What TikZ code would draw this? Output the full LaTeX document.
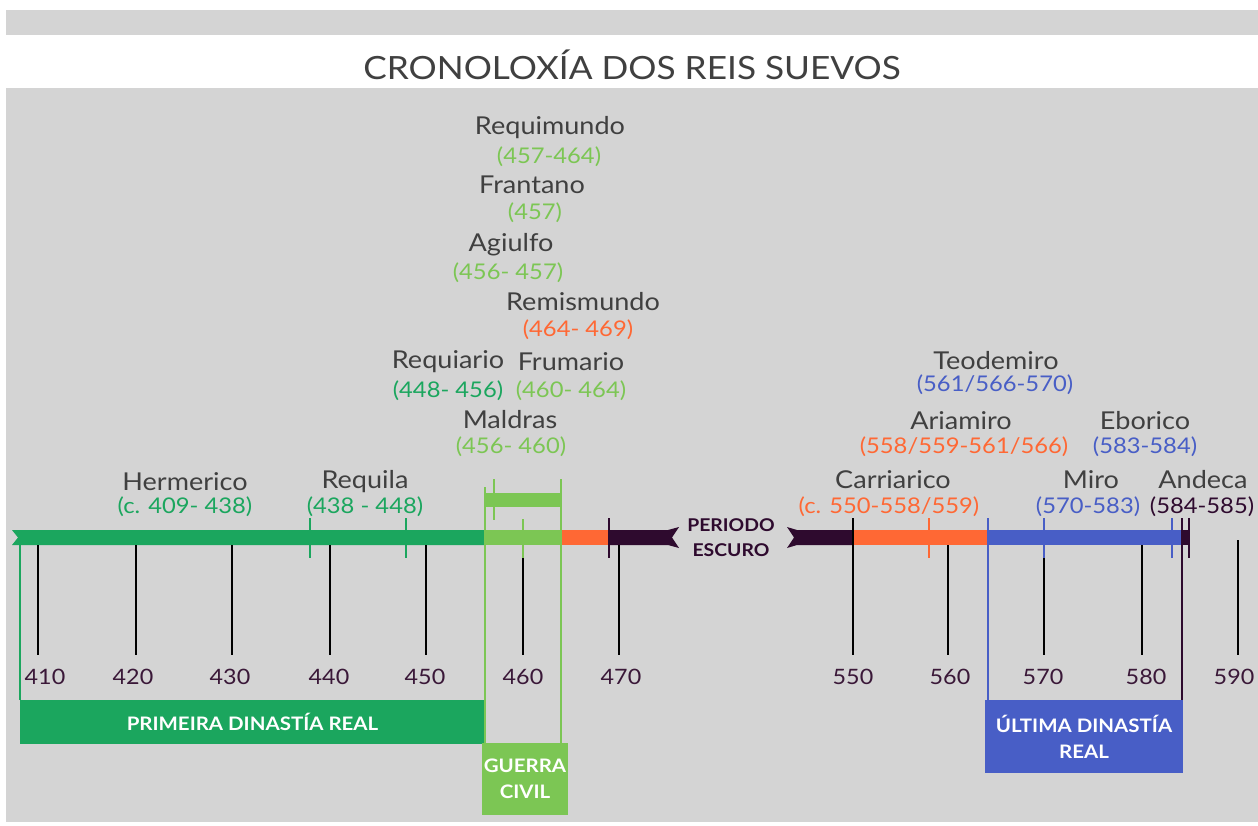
\documentclass[tikz,border=0pt]{standalone}
\usepackage{fontspec}
\setmainfont{Lato}[FakeStretch=1.1]
\usetikzlibrary{positioning}
\definecolor{bggray}{RGB}{212,212,212}
\definecolor{namegray}{RGB}{64,64,64}
\definecolor{dgreen}{RGB}{27,166,94}
\definecolor{lgreen}{RGB}{124,198,84}
\definecolor{orng}{RGB}{255,104,52}
\definecolor{dpurple}{RGB}{46,10,46}
\definecolor{blu}{RGB}{72,94,198}
\definecolor{yeartext}{RGB}{58,24,56}
\tikzset{
  king/.style={text=namegray,inner sep=0pt,font=\fontsize{12.3}{14}\selectfont},
  reign/.style={inner sep=0pt,font=\fontsize{10.8}{12}\selectfont},
  yearlbl/.style={text=yeartext,inner sep=0pt,font=\fontsize{10.6}{12}\selectfont},
  tick/.style={black,line width=1pt},
  reignmark/.style={line width=0.7pt},
  era/.style={text=white,inner sep=0pt,align=center,font=\bfseries\fontsize{9.3}{13}\selectfont}
}
\begin{document}
\begin{tikzpicture}[x=0.5pt,y=-0.5pt]
\useasboundingbox (0,0) rectangle (1258,825);
\fill[white] (0,0) rectangle (1258,825);
\fill[bggray] (6,10) rectangle (1258,35);
\fill[bggray] (6,88) rectangle (1258,822);
\node[text=namegray,inner sep=0pt,font=\fontsize{16}{18}\selectfont] (title) at (632,65) {CRONOLOXÍA DOS REIS SUEVOS};

\fill[dgreen] (12,530) -- (485,530) -- (485,545) -- (12,545) -- (18,537.5) -- cycle;
\fill[lgreen] (485,530) rectangle (562,545);
\fill[orng] (562,530) rectangle (609,545);
\fill[dpurple] (609,530) -- (668,530) -- (679,527) -- (672,537.5) -- (679,548) -- (668,545) -- (609,545) -- cycle;
\fill[dpurple] (787,527) -- (797,530) -- (853,530) -- (853,545) -- (797,545) -- (787,548) -- (794,537.5) -- cycle;
\fill[orng] (853,530) rectangle (987,545);
\fill[blu] (987,530) rectangle (1182,545);
\fill[dpurple] (1182,530) rectangle (1190,545);
\fill[lgreen] (485,493) rectangle (561,507);

\node[era,fill=dgreen,minimum width=232.5pt,minimum height=22pt] (primeira) at (252.5,722) {PRIMEIRA DINASTÍA REAL};
\node[era,fill=lgreen,minimum width=43pt,minimum height=36pt] (guerra) at (525,779) {GUERRA\\CIVIL};
\node[era,fill=blu,minimum width=99pt,minimum height=36.5pt] (ultima) at (1084,736.5) {ÚLTIMA DINASTÍA\\REAL};
\node[text=dpurple,inner sep=0pt,align=center,font=\bfseries\fontsize{8.8}{12.5}\selectfont] (escuro) at (731,538) {PERIODO\\ESCURO};

\draw[reignmark,dgreen] (20,545) -- (20,700);
\draw[reignmark,dgreen] (310,518) -- (310,558);
\draw[reignmark,dgreen] (406,518) -- (406,558);
\draw[reignmark,lgreen] (485,487) -- (485,743);
\draw[reignmark,lgreen] (561,479) -- (561,743);
\draw[reignmark,lgreen] (494,479) -- (494,520);
\draw[reignmark,lgreen] (523,519) -- (523,558);
\draw[reignmark,dpurple] (609,518) -- (609,558);
\draw[reignmark,orng] (929,518) -- (929,558);
\draw[reignmark,blu] (988,518) -- (988,700);
\draw[reignmark,blu] (1044,518) -- (1044,558);
\draw[reignmark,blu] (1172,518) -- (1172,558);
\draw[reignmark,dpurple] (1182,518) -- (1182,700);
\draw[reignmark,dpurple] (1189,518) -- (1189,558);

\foreach \yr/\x/\top/\lx in {410/38/545/45,420/136/545/133,430/232/545/230,440/330/545/329,450/426/545/425,460/523/558/523,470/619/545/621,550/853/518/853,560/948/545/950,570/1044/558/1043,580/1142/545/1146,590/1238/540/1234}{
  \draw[tick] (\x,\top) -- (\x,655);
  \node[yearlbl] (y\yr) at (\lx,677) {\yr};
}

\node[king] (hermerico) at (185,482) {Hermerico};
\node[reign,text=dgreen] (hermericoR) at (185,507) {(c. 409- 438)};
\node[king] (requila) at (365,482) {Requila};
\node[reign,text=dgreen] (requilaR) at (365,507) {(438 - 448)};
\node[king] (maldras) at (510,420) {Maldras};
\node[reign,text=lgreen] (maldrasR) at (511,447) {(456- 460)};
\node[king] (requiario) at (448,362) {Requiario};
\node[reign,text=dgreen] (requiarioR) at (448,391) {(448- 456)};
\node[king] (frumario) at (571,362) {Frumario};
\node[reign,text=lgreen] (frumarioR) at (571,391) {(460- 464)};
\node[king] (remismundo) at (583,302) {Remismundo};
\node[reign,text=orng] (remismundoR) at (578,330) {(464- 469)};
\node[king] (agiulfo) at (511,245) {Agiulfo};
\node[reign,text=lgreen] (agiulfoR) at (508,273) {(456- 457)};
\node[king] (frantano) at (532,185) {Frantano};
\node[reign,text=lgreen] (frantanoR) at (535,213) {(457)};
\node[king] (requimundo) at (550,128) {Requimundo};
\node[reign,text=lgreen] (requimundoR) at (549,157) {(457-464)};

\node[king] (teodemiro) at (996,361) {Teodemiro};
\node[reign,text=blu] (teodemiroR) at (995,385) {(561/566-570)};
\node[king] (ariamiro) at (961,421) {Ariamiro};
\node[reign,text=orng] (ariamiroR) at (964,447) {(558/559-561/566)};
\node[king] (eborico) at (1145,421) {Eborico};
\node[reign,text=blu] (eboricoR) at (1145,447) {(583-584)};
\node[king] (carriarico) at (893,480) {Carriarico};
\node[reign,text=orng] (carriaricoR) at (889,507) {(c. 550-558/559)};
\node[king] (miro) at (1091,480) {Miro};
\node[reign,text=blu] (miroR) at (1088,507) {(570-583)};
\node[king] (andeca) at (1203,480) {Andeca};
\node[reign,text=dpurple] (andecaR) at (1202,507) {(584-585)};
\end{tikzpicture}
\end{document}
